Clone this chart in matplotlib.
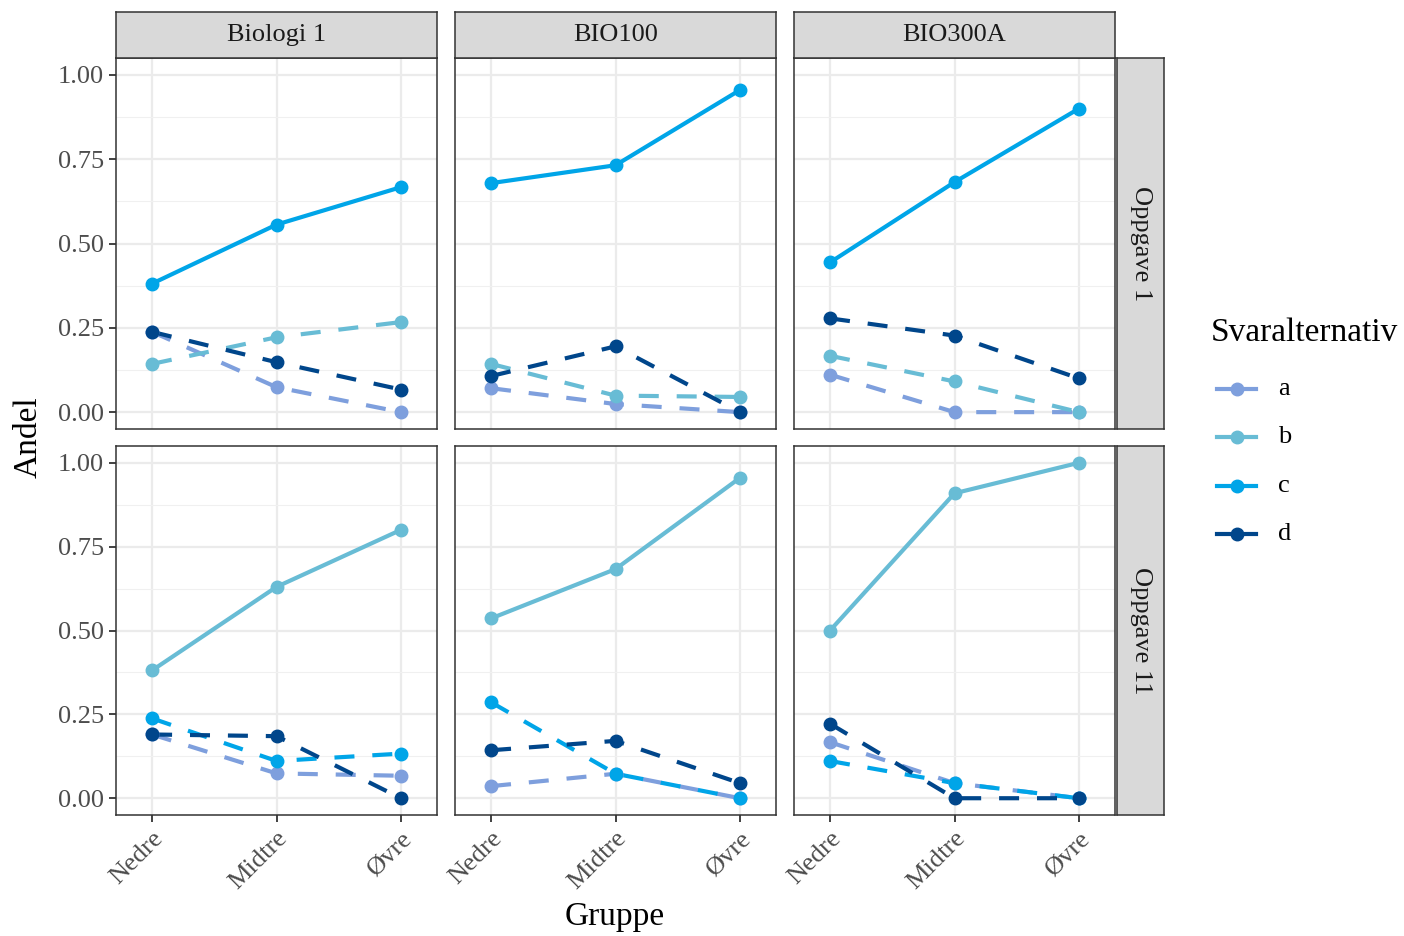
import numpy as np
import matplotlib.pyplot as plt
from matplotlib.lines import Line2D

plt.rcParams['font.family'] = ['Liberation Serif', 'DejaVu Serif']

# data: andel per svaralternativ, gruppe (Nedre, Midtre, Øvre)
grupper = ['Nedre', 'Midtre', 'Øvre']
kurs = ['Biologi 1', 'BIO100', 'BIO300A']
oppgaver = ['Oppgave 1', 'Oppgave 11']
alternativ = ['a', 'b', 'c', 'd']
riktig = {'Oppgave 1': 'c', 'Oppgave 11': 'b'}

# Oppgave 1
o1_bio1_a = [0.238, 0.074, 0.0]
o1_bio1_b = [0.143, 0.222, 0.267]
o1_bio1_c = [0.381, 0.556, 0.667]
o1_bio1_d = [0.238, 0.148, 0.067]

o1_bio100_a = [0.071, 0.024, 0.0]
o1_bio100_b = [0.143, 0.049, 0.045]
o1_bio100_c = [0.679, 0.732, 0.955]
o1_bio100_d = [0.107, 0.195, 0.0]

o1_bio300_a = [0.111, 0.0, 0.0]
o1_bio300_b = [0.167, 0.091, 0.0]
o1_bio300_c = [0.444, 0.682, 0.900]
o1_bio300_d = [0.278, 0.227, 0.100]

# Oppgave 11
o11_bio1_a = [0.190, 0.074, 0.067]
o11_bio1_b = [0.381, 0.630, 0.800]
o11_bio1_c = [0.238, 0.111, 0.133]
o11_bio1_d = [0.190, 0.185, 0.0]

o11_bio100_a = [0.036, 0.073, 0.0]
o11_bio100_b = [0.536, 0.683, 0.955]
o11_bio100_c = [0.286, 0.073, 0.0]
o11_bio100_d = [0.143, 0.171, 0.045]

o11_bio300_a = [0.167, 0.045, 0.0]
o11_bio300_b = [0.500, 0.909, 1.0]
o11_bio300_c = [0.111, 0.045, 0.0]
o11_bio300_d = [0.222, 0.0, 0.0]

data = {
  ('Oppgave 1', 'Biologi 1'): [o1_bio1_a, o1_bio1_b, o1_bio1_c, o1_bio1_d],
  ('Oppgave 1', 'BIO100'): [o1_bio100_a, o1_bio100_b, o1_bio100_c, o1_bio100_d],
  ('Oppgave 1', 'BIO300A'): [o1_bio300_a, o1_bio300_b, o1_bio300_c, o1_bio300_d],
  ('Oppgave 11', 'Biologi 1'): [o11_bio1_a, o11_bio1_b, o11_bio1_c, o11_bio1_d],
  ('Oppgave 11', 'BIO100'): [o11_bio100_a, o11_bio100_b, o11_bio100_c, o11_bio100_d],
  ('Oppgave 11', 'BIO300A'): [o11_bio300_a, o11_bio300_b, o11_bio300_c, o11_bio300_d],
}

farger = ['#7E9FDD', '#68BCD5', '#00A5E8', '#00468B']

W, H = 1404, 936
fig = plt.figure(figsize=(W / 100, H / 100), dpi=100)

def px_axes(x0, y0, x1, y1):
  # pixel box (top-left origin) -> figure axes
  return fig.add_axes([x0 / W, 1 - y1 / H, (x1 - x0) / W, (y1 - y0) / H])

cols = [(116, 437), (455, 776), (794, 1115)]
rows = [(58, 429), (446, 815)]
border = '#333333'
x = np.arange(1, 4)
LW = 3.0
MS = 9

for r, opp in enumerate(oppgaver):
  for c, k in enumerate(kurs):
    ax = px_axes(cols[c][0], rows[r][0], cols[c][1], rows[r][1])
    ax.set_xlim(0.71, 3.29)
    ax.set_ylim(-0.05, 1.05)
    ax.set_xticks(x)
    ax.set_yticks([0, 0.25, 0.5, 0.75, 1.0])
    ax.set_yticks([0.125, 0.375, 0.625, 0.875], minor=True)
    ax.set_xticks([], minor=True)
    ax.grid(True, which='major', color='#EBEBEB', lw=1.6)
    ax.grid(True, which='minor', axis='y', color='#F0F0F0', lw=0.8)
    ax.set_axisbelow(True)
    for s in ax.spines.values():
      s.set_color(border)
      s.set_linewidth(1.1)
    ax.tick_params(which='minor', length=0)
    ax.tick_params(which='major', color=border, width=1.3, length=5,
                   labelcolor='#4D4D4D', labelsize=19)
    if c == 0:
      ax.set_yticklabels(['0.00', '0.25', '0.50', '0.75', '1.00'])
    else:
      ax.tick_params(axis='y', length=0, labelleft=False)
    if r == 1:
      ax.set_xticklabels(grupper, rotation=45, ha='right', va='top',
                         rotation_mode='anchor')
      ax.tick_params(axis='x', pad=4)
    else:
      ax.tick_params(axis='x', length=0, labelbottom=False)

    verdier = data[(opp, k)]
    for i, alt in enumerate(alternativ):
      ls = '-' if alt == riktig[opp] else (0, (4.8, 4.3))
      ax.plot(x, verdier[i], color=farger[i], lw=LW, linestyle=ls, zorder=2 + i * 0.1)
    for i, alt in enumerate(alternativ):
      ax.plot(x, verdier[i], 'o', color=farger[i], ms=MS, zorder=3 + i * 0.1)

    # strips
    if r == 0:
      sx = px_axes(cols[c][0], 12, cols[c][1], 58)
      sx.set_facecolor('#D9D9D9')
      sx.set_xticks([]); sx.set_yticks([])
      for s in sx.spines.values():
        s.set_color(border); s.set_linewidth(1.1)
      sx.text(0.5, 0.5, k, ha='center', va='center', fontsize=19, color='#1A1A1A')
    if c == 2:
      sy = px_axes(1117, rows[r][0], 1164, rows[r][1])
      sy.set_facecolor('#D9D9D9')
      sy.set_xticks([]); sy.set_yticks([])
      for s in sy.spines.values():
        s.set_color(border); s.set_linewidth(1.1)
      sy.text(0.5, 0.5, opp, ha='center', va='center', fontsize=19,
              color='#1A1A1A', rotation=-90)

fig.text(28 / W, 1 - 437 / H, 'Andel', rotation=90, ha='center', va='center', fontsize=24)
fig.text(615 / W, 1 - 917 / H, 'Gruppe', ha='center', va='center', fontsize=24)

# legend
fig.text(1211 / W, 1 - 333 / H, 'Svaralternativ', ha='left', va='center', fontsize=24)
key_y = [389, 437, 486, 534]
for i, alt in enumerate(alternativ):
  fy = 1 - key_y[i] / H
  fig.add_artist(Line2D([1217 / W, 1256 / W], [fy, fy], color=farger[i], lw=LW))
  fig.add_artist(Line2D([1236.5 / W], [fy], marker='o', color=farger[i], ms=MS))
  fig.text(1278 / W, fy, alt, ha='left', va='center', fontsize=19)

fig.savefig('out.png', dpi=100)
